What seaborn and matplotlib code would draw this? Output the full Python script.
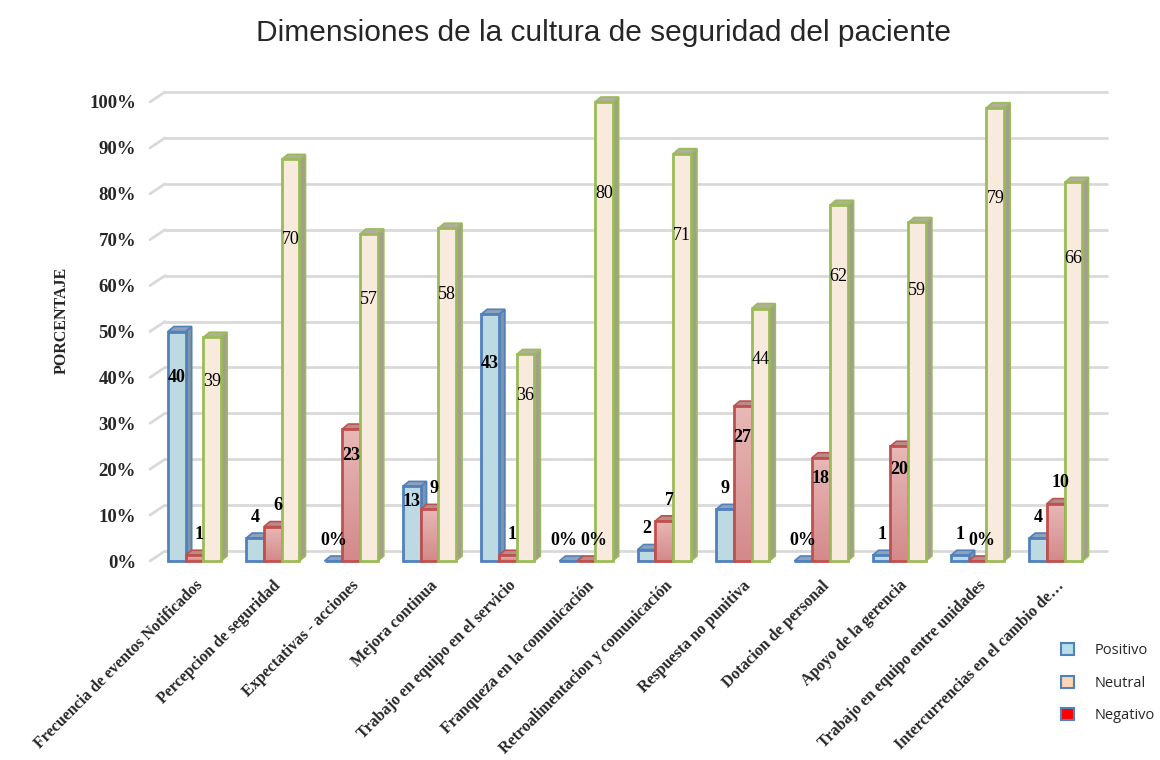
import numpy as np
import pandas as pd
import matplotlib
matplotlib.use("Agg")
import matplotlib.pyplot as plt
import seaborn as sns
from matplotlib.patches import Polygon, Patch
from matplotlib.colors import LinearSegmentedColormap

# datos (conteos sobre 80 encuestados y su porcentaje)
categorias = [
    "Frecuencia de eventos Notificados",
    "Percepcion de seguridad",
    "Expectativas - acciones",
    "Mejora continua",
    "Trabajo en equipo en el servicio",
    "Franqueza en la comunicación",
    "Retroalimentacion y comunicación",
    "Respuesta no punitiva",
    "Dotacion de personal",
    "Apoyo de la gerencia",
    "Trabajo en equipo entre unidades",
    "Intercurrencias en el cambio de…",
]
positivo = [40, 4, 0, 13, 43, 0, 2, 9, 0, 1, 1, 4]
negativo = [1, 6, 23, 9, 1, 0, 7, 27, 18, 20, 0, 10]
neutral = [39, 70, 57, 58, 36, 80, 71, 44, 62, 59, 79, 66]
pct_positivo = [50, 5, 0, 16.25, 53.75, 0, 2.5, 11.25, 0, 1.25, 1.25, 5]
pct_negativo = [1.25, 7.5, 28.75, 11.25, 1.25, 0, 8.75, 33.75, 22.5, 25, 0, 12.5]
pct_neutral = [48.75, 87.5, 71.25, 72.5, 45, 100, 88.75, 55, 77.5, 73.75, 98.75, 82.5]
yticks = [0, 10, 20, 30, 40, 50, 60, 70, 80, 90, 100]

series = ["Positivo", "Negativo", "Neutral"]
face = {"Positivo": "#b7dee8", "Negativo": "#dc9e9c", "Neutral": "#fde9d9"}
edge = {"Positivo": "#4f81bd", "Negativo": "#c0504d", "Neutral": "#9bbb59"}
side = {"Positivo": "#7f93a7", "Negativo": "#a98080", "Neutral": "#a29f8e"}
top = {"Positivo": "#8ea3b8", "Negativo": "#b98c8c", "Neutral": "#b2ae9c"}

rows = []
for i, c in enumerate(categorias):
    rows.append((c, "Positivo", pct_positivo[i], positivo[i]))
    rows.append((c, "Negativo", pct_negativo[i], negativo[i]))
    rows.append((c, "Neutral", pct_neutral[i], neutral[i]))
df = pd.DataFrame(rows, columns=["categoria", "serie", "pct", "n"])

sns.set_style("white")
plt.rcParams['font.family'] = ['Liberation Serif', 'DejaVu Serif']

fig = plt.figure(figsize=(11.6, 7.6), dpi=100)
ax = fig.add_axes([150 / 1160, 1 - 561 / 760, 957 / 1160, 459 / 760])

sns.barplot(data=df, x="categoria", y="pct", hue="serie", hue_order=series,
            palette=face, width=0.68, errorbar=None, legend=False, ax=ax)

xmin, xmax = -0.569, 11.653
ppx = (xmax - xmin) / 957.0   # unidades por pixel (x)
ppy = 100.0 / 459.0           # unidades por pixel (y)
dx, dy = 6 * ppx, 5 * ppy

# lineas de cuadricula con pared lateral en perspectiva
gx, gy = 15 * ppx, 10 * ppy
for t in yticks:
    ax.plot([xmin, xmin + gx], [t, t + gy], color="#d9d9d9", lw=2, zorder=0.5, clip_on=False)
    ax.plot([xmin + gx, xmax], [t + gy, t + gy], color="#d9d9d9", lw=2, zorder=0.5, clip_on=False)

# efecto 3D sobre las barras de seaborn
red_cmap = LinearSegmentedColormap.from_list("rojo", ["#d4898a", "#e8b8b7"])
bars = []
for serie, cont in zip(series, ax.containers):
    for i, p in enumerate(cont.patches):
        bars.append((p.get_x(), serie, i, p))
bars.sort(key=lambda b: b[0])

for k, (x0, serie, i, p) in enumerate(bars):
    w, h = p.get_width(), p.get_height()
    z = 2 + k * 0.1
    ax.add_patch(Polygon([(x0 + w, 0), (x0 + w + dx, dy), (x0 + w + dx, h + dy), (x0 + w, h)],
                         closed=True, facecolor=side[serie], edgecolor=edge[serie], lw=1.2,
                         zorder=z, clip_on=False))
    ax.add_patch(Polygon([(x0, h), (x0 + dx, h + dy), (x0 + w + dx, h + dy), (x0 + w, h)],
                         closed=True, facecolor=top[serie], edgecolor=edge[serie], lw=1.2,
                         zorder=z, clip_on=False))
    p.set_edgecolor(edge[serie])
    p.set_linewidth(2)
    p.set_zorder(z + 0.05)
    p.set_clip_on(False)
    if serie == "Negativo" and h > 0:
        grad = np.linspace(0, 1, 100).reshape(-1, 1)
        im = ax.imshow(grad, extent=[x0, x0 + w, 0, h], origin="lower", aspect="auto",
                       cmap=red_cmap, zorder=z + 0.02)
        im.set_clip_path(p)
        p.set_facecolor("none")

# etiquetas de datos
vals = {"Positivo": positivo, "Negativo": negativo, "Neutral": neutral}
for x0, serie, i, p in bars:
    h = p.get_height()
    n = vals[serie][i]
    txt = f"{n}" if n > 0 else "0%"
    ylab = 0.8 * h if h > 15 else h + 4.5
    xlab = x0 + p.get_width() / 2
    if serie == "Negativo" and h <= 15:
        xlab += 0.06
    if n == 0 and positivo[i] == 0 and negativo[i] == 0:
        xlab += -0.06 if serie == "Positivo" else 0.04
    ax.text(xlab, ylab, txt, ha="center", va="center", fontsize=13,
            fontweight="normal" if serie == "Neutral" else "bold", color="black", zorder=10)

ax.set_xlim(xmin, xmax)
ax.set_ylim(0, 100)
ax.set_yticks(yticks)
ax.set_yticklabels([f"{t}%" for t in yticks], fontsize=13.5, fontweight="bold")
ax.set_xticks(range(len(categorias)))
ax.set_xticklabels(categorias, rotation=45, ha="right", va="top", rotation_mode="anchor",
                   fontsize=11.5, fontweight="bold")
ax.tick_params(axis="y", length=0, pad=10)
ax.tick_params(axis="x", length=0, pad=12)
ax.set_xlabel("")
ax.set_ylabel("")
sns.despine(ax=ax, left=True, bottom=True)

fig.text(62 / 1160, 1 - 320 / 760, "PORCENTAJE", rotation=90, ha="center", va="center",
         fontsize=11.5, fontweight="bold")
fig.text(604 / 1160, 1 - 33 / 760, "Dimensiones de la cultura de seguridad del paciente",
         ha="center", va="center", fontsize=21.5, family="Liberation Sans")

handles = [Patch(facecolor="#b7dee8", edgecolor="#4f81bd", lw=1.5),
           Patch(facecolor="#fbd5b5", edgecolor="#4f81bd", lw=1.5),
           Patch(facecolor="#ff0000", edgecolor="#4f81bd", lw=1.5)]
fig.legend(handles, ["Positivo", "Neutral", "Negativo"], loc="upper left",
           bbox_to_anchor=(1048 / 1160, 1 - 630 / 760), frameon=False,
           handlelength=0.9, handleheight=0.9, handletextpad=1.4, labelspacing=1.2,
           prop={"family": "Open Sans", "size": 10.5})

fig.savefig("out.png", dpi=100)
